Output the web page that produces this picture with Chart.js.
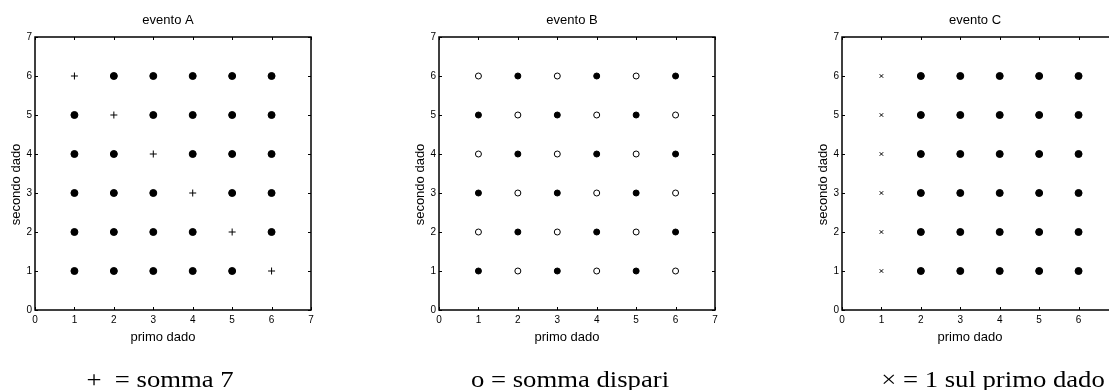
<!DOCTYPE html>
<html>
<head>
<meta charset="utf-8">
<script src="https://cdn.jsdelivr.net/npm/chart.js@4"></script>
<style>
    html, body { margin: 0; padding: 0; background: #fff; overflow: hidden; }
    body { width: 1109px; height: 390px; position: relative; }
    canvas { position: absolute; top: 0; }
</style>
</head>
<body>
<canvas id="chartA" width="330" height="390" style="left:0px"></canvas>
<canvas id="chartB" width="330" height="390" style="left:404px"></canvas>
<canvas id="chartC" width="330" height="390" style="left:807px"></canvas>
<script>
// axis ticks shared by all three panels
var tickValues = [0, 1, 2, 3, 4, 5, 6, 7];
var titles = ['evento A', 'evento B', 'evento C'];
var xLabel = 'primo dado';
var yLabel = 'secondo dado';
var captions = ['+  = somma 7', 'o = somma dispari', '\u00d7 = 1 sul primo dado'];

// evento A: + where the sum is 7
var dotsA = [[1,1],[1,2],[1,3],[1,4],[1,5],[2,1],[2,2],[2,3],[2,4],[2,6],[3,1],[3,2],[3,3],[3,5],[3,6],
             [4,1],[4,2],[4,4],[4,5],[4,6],[5,1],[5,3],[5,4],[5,5],[5,6],[6,2],[6,3],[6,4],[6,5],[6,6]];
var plusA = [[1,6],[2,5],[3,4],[4,3],[5,2],[6,1]];

// evento B: open circle where the sum is odd
var filledB = [[1,1],[1,3],[1,5],[2,2],[2,4],[2,6],[3,1],[3,3],[3,5],[4,2],[4,4],[4,6],[5,1],[5,3],[5,5],[6,2],[6,4],[6,6]];
var openB = [[1,2],[1,4],[1,6],[2,1],[2,3],[2,5],[3,2],[3,4],[3,6],[4,1],[4,3],[4,5],[5,2],[5,4],[5,6],[6,1],[6,3],[6,5]];

// evento C: x where the first die is 1
var crossC = [[1,1],[1,2],[1,3],[1,4],[1,5],[1,6]];
var dotsC = [[2,1],[2,2],[2,3],[2,4],[2,5],[2,6],[3,1],[3,2],[3,3],[3,4],[3,5],[3,6],[4,1],[4,2],[4,3],[4,4],[4,5],[4,6],
             [5,1],[5,2],[5,3],[5,4],[5,5],[5,6],[6,1],[6,2],[6,3],[6,4],[6,5],[6,6]];

function toPoints(pairs) {
    return pairs.map(p => ({ x: p[0], y: p[1] }));
}

var decorPlugin = {
    id: 'decor',
    afterDatasetsDraw(chart, args, opts) {
        var ctx = chart.ctx;
        var a = chart.chartArea;
        var xs = chart.scales.x, ys = chart.scales.y;
        ctx.save();
        ctx.strokeStyle = '#000';
        ctx.fillStyle = '#000';

        // MATLAB style ticks pointing inwards on all four sides
        ctx.lineWidth = 1;
        ctx.beginPath();
        tickValues.forEach(v => {
            var px = Math.round(xs.getPixelForValue(v)) + 0.5;
            var py = Math.round(ys.getPixelForValue(v)) + 0.5;
            ctx.moveTo(px, a.bottom); ctx.lineTo(px, a.bottom - 3);
            ctx.moveTo(px, a.top); ctx.lineTo(px, a.top + 3);
            ctx.moveTo(a.left, py); ctx.lineTo(a.left + 3, py);
            ctx.moveTo(a.right, py); ctx.lineTo(a.right - 3, py);
        });
        ctx.stroke();
        ctx.lineWidth = 1.5;
        ctx.strokeRect(a.left, a.top, a.right - a.left, a.bottom - a.top);

        var cx = (a.left + a.right) / 2;
        var cy = (a.top + a.bottom) / 2;
        ctx.textAlign = 'center';
        ctx.textBaseline = 'middle';
        ctx.font = '13px "Liberation Sans", Arial, sans-serif';
        ctx.fillText(opts.title, cx - 5, 20);
        ctx.fillText(xLabel, cx - 10, 337);
        ctx.save();
        ctx.translate(16, cy + 11);
        ctx.rotate(-Math.PI / 2);
        ctx.fillText(yLabel, 0, 0);
        ctx.restore();

        // caption under the panel
        ctx.save();
        ctx.translate(opts.captionX, 387);
        ctx.scale(1.16, 1);
        ctx.textBaseline = 'alphabetic';
        ctx.font = '23px "Liberation Serif", "Times New Roman", serif';
        ctx.fillText(opts.caption, 0, 0);
        ctx.restore();
        ctx.restore();
    }
};

function dotStyle(pairs, r) {
    return {
        data: toPoints(pairs), pointStyle: 'circle', pointRadius: r,
        pointBackgroundColor: '#000', pointBorderColor: '#000', pointBorderWidth: 1
    };
}

function makePanel(id, datasets, idx, captionX) {
    var axisFont = { family: '"Liberation Sans", Arial, sans-serif', size: 10 };
    return new Chart(document.getElementById(id), {
        type: 'scatter',
        data: { datasets: datasets },
        options: {
            responsive: false,
            animation: false,
            events: [],
            layout: { padding: { left: 0, top: 37, right: 19, bottom: 0 } },
            plugins: {
                legend: { display: false },
                tooltip: { enabled: false },
                decor: { title: titles[idx], caption: captions[idx], captionX: captionX }
            },
            scales: {
                x: {
                    type: 'linear', min: 0, max: 7,
                    grid: { display: false, drawTicks: false },
                    border: { display: false },
                    afterBuildTicks: s => { s.ticks = tickValues.map(v => ({ value: v })); },
                    afterFit: s => { s.height = 80; },
                    ticks: { color: '#000', font: axisFont, padding: 4, maxRotation: 0 }
                },
                y: {
                    type: 'linear', min: 0, max: 7,
                    grid: { display: false, drawTicks: false },
                    border: { display: false },
                    afterBuildTicks: s => { s.ticks = tickValues.map(v => ({ value: v })); },
                    afterFit: s => { s.width = 35; },
                    ticks: { color: '#000', font: axisFont, padding: 3 }
                }
            }
        },
        plugins: [decorPlugin]
    });
}

makePanel('chartA', [
    dotStyle(dotsA, 3.5),
    { data: toPoints(plusA), pointStyle: 'cross', pointRadius: 3.5, pointBorderColor: '#000', pointBorderWidth: 1 }
], 0, 160);

makePanel('chartB', [
    dotStyle(filledB, 3),
    { data: toPoints(openB), pointStyle: 'circle', pointRadius: 3, pointBackgroundColor: '#fff', pointBorderColor: '#000', pointBorderWidth: 1 }
], 1, 166);

makePanel('chartC', [
    dotStyle(dotsC, 3.5),
    { data: toPoints(crossC), pointStyle: 'crossRot', pointRadius: 2.5, pointBorderColor: '#000', pointBorderWidth: 1 }
], 2, 186);
</script>
</body>
</html>
